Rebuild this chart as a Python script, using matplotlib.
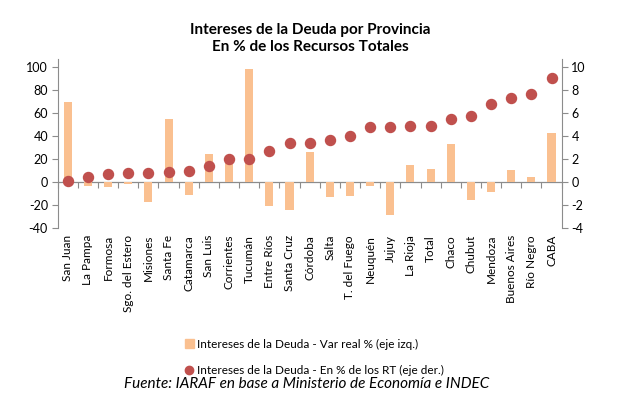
import numpy as np
import matplotlib
matplotlib.use('Agg')
from matplotlib import pyplot as plt
from matplotlib.lines import Line2D
from matplotlib.patches import Patch

# Datos por provincia
provincias = ['San Juan', 'La Pampa', 'Formosa', 'Sgo. del Estero', 'Misiones', 'Santa Fe',
              'Catamarca', 'San Luis', 'Corrientes', 'Tucumán', 'Entre Ríos', 'Santa Cruz',
              'Córdoba', 'Salta', 'T. del Fuego', 'Neuquén', 'Jujuy', 'La Rioja', 'Total',
              'Chaco', 'Chubut', 'Mendoza', 'Buenos Aires', 'Río Negro', 'CABA']
var_real = [70, -3, -4.5, -2, -17, 55, -11.5, 24, 18, 98.5, -21, -24.5, 26.5,
            -12.7, -11.7, -3.8, -28.5, 14.6, 11.4, 33, -15.3, -8.8, 10.5, 4.6, 42.5]
pct_rt = [0.05, 0.43, 0.7, 0.76, 0.82, 0.85, 0.96, 1.4, 2.0, 2.0, 2.7, 3.4, 3.4,
          3.7, 4.05, 4.75, 4.8, 4.85, 4.85, 5.45, 5.75, 6.8, 7.3, 7.65, 9.05]
ticks_izq = [-40, -20, 0, 20, 40, 60, 80, 100]
ticks_der = [-4, -2, 0, 2, 4, 6, 8, 10]

plt.rcParams['font.family'] = ['Lato', 'DejaVu Sans']
plt.rcParams['axes.unicode_minus'] = False

gris = '#8c8c8c'
naranja = '#fac090'
rojo = '#c0504d'

fig = plt.figure(figsize=(6.24, 4.05), dpi=100)
ax = fig.add_axes([0.0925, 0.437, 0.8075, 0.417])
x = np.arange(len(provincias))

ax.bar(x, var_real, width=0.4, color=naranja, zorder=2)
ax.set_xlim(-0.5, len(provincias) - 0.5)
ymin, ymax = -40, 107
ax.set_ylim(ymin, ymax)
ax.set_yticks(ticks_izq)
ax.tick_params(axis='y', length=4, color=gris, labelsize=9, pad=3)
ax.set_xticks(x)
ax.set_xticklabels(provincias, rotation=90, fontsize=8.5)
ax.tick_params(axis='x', length=0, pad=5)
for s in ['top', 'right', 'bottom']:
    ax.spines[s].set_visible(False)
ax.spines['left'].set_color(gris)

# Eje en cero con marcas entre categorías
ax.axhline(0, color=gris, lw=0.9, zorder=1)
sec = ax.secondary_xaxis((0 - ymin) / (ymax - ymin))
sec.set_xticks(np.arange(len(provincias) + 1) - 0.5)
sec.set_xticklabels([])
sec.tick_params(length=4, color=gris)
sec.spines['bottom'].set_visible(False)

ax2 = ax.twinx()
ax2.scatter(x, pct_rt, s=52, color=rojo, zorder=3)
ax2.set_ylim(ymin / 10, ymax / 10)
ax2.set_yticks(ticks_der)
ax2.tick_params(axis='y', length=4, color=gris, labelsize=9, pad=3)
for s in ['top', 'left', 'bottom']:
    ax2.spines[s].set_visible(False)
ax2.spines['right'].set_color(gris)

fig.text(0.497, 0.905, 'Intereses de la Deuda por Provincia\nEn % de los Recursos Totales',
         ha='center', va='center', fontsize=11, fontweight='bold', linespacing=1.35)

handles = [Patch(color=naranja), Line2D([], [], marker='o', ls='', color=rojo, markersize=6)]
fig.legend(handles, ['Intereses de la Deuda - Var real % (eje izq.)',
                     'Intereses de la Deuda - En % de los RT (eje der.)'],
           loc='upper left', bbox_to_anchor=(0.28, 0.19), frameon=False, fontsize=8.5,
           handlelength=0.7, handletextpad=0.3, labelspacing=1.3)

fig.text(0.492, 0.052, 'Fuente: IARAF en base a Ministerio de Economía e INDEC',
         ha='center', va='center', fontsize=11, style='italic')

fig.savefig('out.png', dpi=100)
